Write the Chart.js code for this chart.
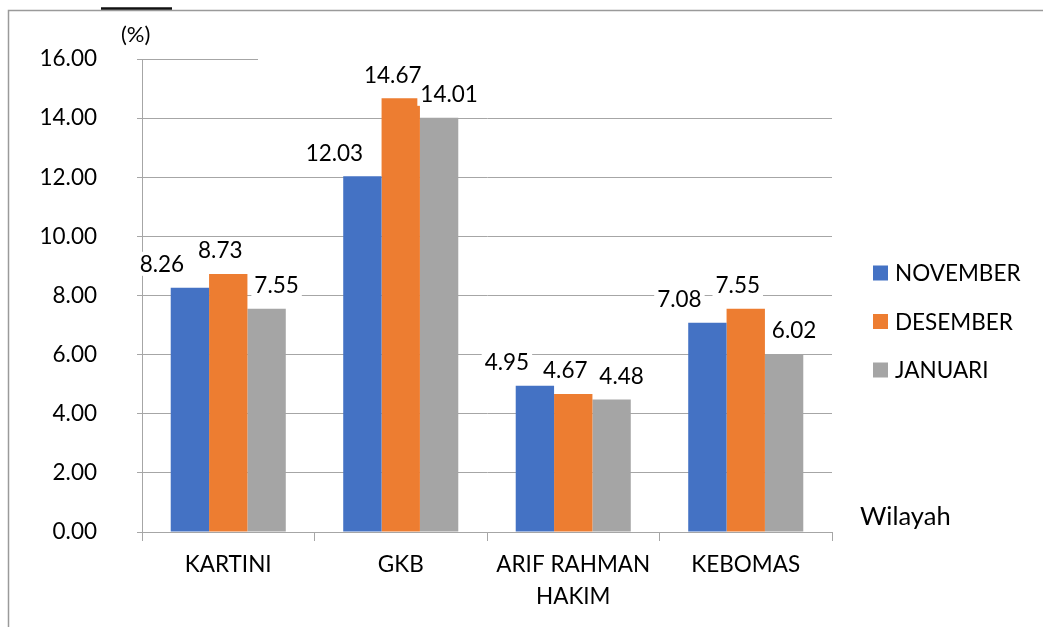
<!DOCTYPE html>
<html>
<head>
<meta charset="utf-8">
<script src="https://cdn.jsdelivr.net/npm/chart.js@4.4.1/dist/chart.umd.min.js"></script>
<style>
  html, body { margin: 0; padding: 0; background: #ffffff; }
  #wrap { width: 1043px; height: 627px; position: relative; }
</style>
</head>
<body>
<div id="wrap"><canvas id="c" width="1043" height="627"></canvas></div>
<script>
// ---- data ----
const categories = ['KARTINI', 'GKB', ['ARIF RAHMAN', 'HAKIM'], 'KEBOMAS'];
const seriesNames = ['NOVEMBER', 'DESEMBER', 'JANUARI'];
const november = [8.26, 12.03, 4.95, 7.08];
const desember = [8.73, 14.67, 4.67, 7.55];
const januari  = [7.55, 14.01, 4.48, 6.02];
const yTicks = [0, 2, 4, 6, 8, 10, 12, 14, 16];
const yUnit = '(%)';
const xTitle = 'Wilayah';

// ---- style ----
const colors = ['#4472C4', '#ED7D31', '#A5A5A5'];
const FONT = 'Lato, "Open Sans", "DejaVu Sans", sans-serif';
const gridColor = '#A6A6A6';
const labelShiftX = [-28, -8, 10];

const decorPlugin = {
  id: 'decor',
  beforeDraw(chart) {
    const ctx = chart.ctx;
    ctx.save();
    ctx.fillStyle = '#ffffff';
    ctx.fillRect(0, 0, chart.width, chart.height);
    ctx.strokeStyle = '#9a9a9a';
    ctx.lineWidth = 1.5;
    ctx.beginPath();
    ctx.moveTo(8.5, chart.height);
    ctx.lineTo(8.5, 10.5);
    ctx.lineTo(chart.width, 10.5);
    ctx.stroke();
    ctx.strokeStyle = '#111111';
    ctx.lineWidth = 2.5;
    ctx.beginPath();
    ctx.moveTo(101, 8.5);
    ctx.lineTo(172, 8.5);
    ctx.stroke();
    ctx.restore();
  },
  beforeDatasetsDraw(chart) {
    const ctx = chart.ctx;
    const a = chart.chartArea;
    const yTop = chart.scales.y.getPixelForValue(16);
    ctx.save();
    ctx.fillStyle = '#ffffff';
    ctx.fillRect(a.left + 116, yTop - 2, a.right - a.left - 115, 4);
    ctx.restore();
  },
  afterDatasetsDraw(chart) {
    const ctx = chart.ctx;
    ctx.save();
    ctx.font = '22.5px ' + FONT;
    ctx.textAlign = 'center';
    ctx.textBaseline = 'middle';
    chart.data.datasets.forEach((ds, di) => {
      const meta = chart.getDatasetMeta(di);
      meta.data.forEach((bar, i) => {
        const txt = ds.data[i].toFixed(2);
        const x = bar.x + labelShiftX[di];
        const y = bar.y - 24;
        const w = ctx.measureText(txt).width + 6;
        ctx.fillStyle = '#ffffff';
        ctx.fillRect(x - w / 2, y - 12, w, 24);
        ctx.fillStyle = '#000000';
        ctx.fillText(txt, x, y + 1);
      });
    });
    ctx.restore();
  },
  afterDraw(chart) {
    const ctx = chart.ctx;
    const a = chart.chartArea;
    ctx.save();
    ctx.fillStyle = '#000000';
    ctx.textBaseline = 'middle';
    ctx.textAlign = 'left';
    ctx.font = '22px ' + FONT;
    ctx.fillText(yUnit, 121, 35);
    ctx.font = '25.5px ' + FONT;
    ctx.fillText(xTitle, a.right + 28, a.bottom - 15);
    // legend
    ctx.font = '22.5px ' + FONT;
    chart.data.datasets.forEach((ds, di) => {
      const cy = 273 + di * 48.5;
      ctx.fillStyle = ds.backgroundColor;
      ctx.fillRect(a.right + 41, cy - 7.5, 15, 15);
      ctx.fillStyle = '#000000';
      ctx.fillText(ds.label, a.right + 63, cy + 1);
    });
    ctx.restore();
  }
};

new Chart(document.getElementById('c'), {
  type: 'bar',
  data: {
    labels: categories,
    datasets: [
      { label: seriesNames[0], data: november, backgroundColor: colors[0] },
      { label: seriesNames[1], data: desember, backgroundColor: colors[1] },
      { label: seriesNames[2], data: januari,  backgroundColor: colors[2] }
    ]
  },
  options: {
    responsive: false,
    animation: false,
    devicePixelRatio: 1,
    layout: { padding: { left: 0, right: 211, top: 59, bottom: 0 } },
    datasets: { bar: { categoryPercentage: 0.667, barPercentage: 1.0, borderWidth: 0 } },
    plugins: { legend: { display: false }, tooltip: { enabled: false }, title: { display: false } },
    scales: {
      x: {
        grid: { offset: true, drawOnChartArea: false, drawTicks: true, tickLength: 9, color: gridColor },
        border: { display: true, color: gridColor, width: 1 },
        ticks: { color: '#000000', font: { family: FONT, size: 22.5, lineHeight: 1.42 }, padding: 8, maxRotation: 0 },
        afterFit(scale) { scale.height = 95; }
      },
      y: {
        min: 0, max: 16,
        afterBuildTicks(scale) { scale.ticks = yTicks.map(v => ({ value: v })); },
        grid: { color: gridColor, lineWidth: 1, tickLength: 5, drawTicks: true },
        border: { display: true, color: gridColor, width: 1 },
        ticks: { color: '#000000', font: { family: FONT, size: 22.5 }, padding: 40,
                 callback: (v) => Number(v).toFixed(2) },
        afterFit(scale) { scale.width = 142; }
      }
    }
  },
  plugins: [decorPlugin]
});
</script>
</body>
</html>
